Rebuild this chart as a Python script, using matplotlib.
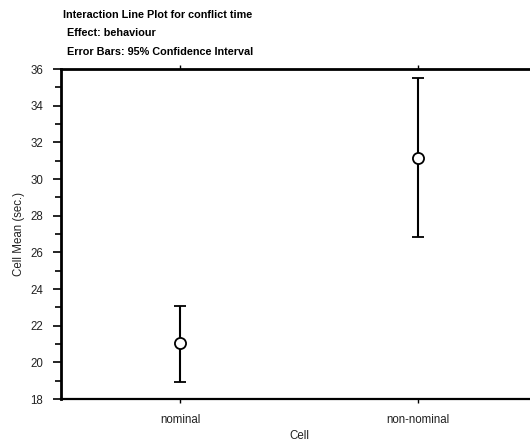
import matplotlib
matplotlib.use("Agg")
import matplotlib.pyplot as plt
from matplotlib.ticker import MultipleLocator

categories = ["nominal", "non-nominal"]
means = [21.05, 31.15]
upper = [23.1, 35.5]
lower = [18.95, 26.85]

plt.rcParams['font.family'] = ['Liberation Sans', 'DejaVu Sans']

fig = plt.figure(figsize=(5.30, 4.44), dpi=100)
ax = fig.add_axes([61/530, 1 - 399/444, (537 - 61)/530, (399 - 69)/444])

x = list(range(len(categories)))
yerr = [[m - l for m, l in zip(means, lower)], [u - m for m, u in zip(means, upper)]]
ax.errorbar(x, means, yerr=yerr, fmt='o', color='black', ecolor='black',
            elinewidth=1.5, capsize=4, capthick=1.5, markersize=8,
            markerfacecolor='white', markeredgecolor='black', markeredgewidth=1.3,
            clip_on=False, zorder=3)

ax.set_xlim(-0.5, 1.5)
ax.set_ylim(18, 36)
ax.set_xticks(x)
ax.set_xticklabels(categories, fontsize=8.3, color='#222222')
ax.yaxis.set_major_locator(MultipleLocator(2))
ax.yaxis.set_minor_locator(MultipleLocator(1))
ax.tick_params(axis='y', which='major', direction='out', length=6, width=1.2, labelsize=8.3, pad=7, labelcolor='#222222')
ax.tick_params(axis='y', which='minor', direction='out', length=4, width=1.2)
ax.tick_params(axis='x', which='major', direction='out', length=3, width=1, top=True, pad=8)
for lab in ax.get_yticklabels():
    lab.set_horizontalalignment('right')

ax.spines['right'].set_visible(False)
ax.spines['left'].set_linewidth(2)
ax.spines['top'].set_linewidth(2)
ax.spines['bottom'].set_linewidth(1.6)

ax.set_xlabel("Cell", fontsize=8.3, labelpad=3, color='#222222')
ax.set_ylabel("Cell Mean (sec.)", fontsize=8.3, labelpad=4, color='#222222')

fig.text(63/530, 1 - 15/444, "Interaction Line Plot for conflict time", fontsize=7.8, fontweight='bold', va='center', ha='left')
fig.text(67/530, 1 - 33/444, "Effect: behaviour", fontsize=7.8, fontweight='bold', va='center', ha='left')
fig.text(67/530, 1 - 52/444, "Error Bars: 95% Confidence Interval", fontsize=7.8, fontweight='bold', va='center', ha='left')

fig.savefig("out.png", dpi=100)
